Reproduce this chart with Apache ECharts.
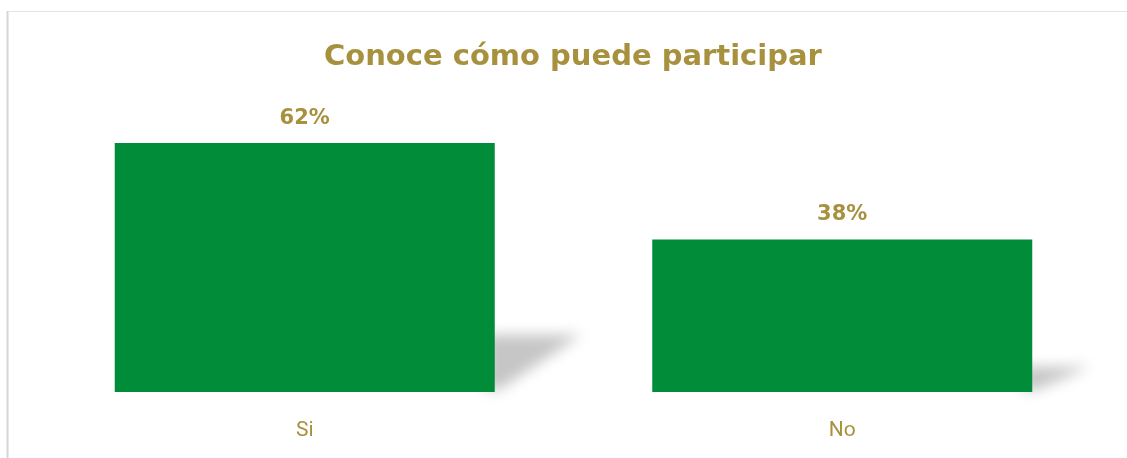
<!DOCTYPE html>
<html>
<head>
<meta charset="utf-8">
<script src="https://cdn.jsdelivr.net/npm/echarts@6/dist/echarts.min.js"></script>
<style>
html,body{margin:0;padding:0;background:#fff;}
#c{width:1127px;height:458px;}
</style>
</head>
<body>
<div id="c"></div>
<script>
const categories = ['Si', 'No'];
const values = [62, 38];
const titleText = 'Conoce cómo puede participar';

const GOLD = '#A8913E';
const GREEN = '#008C38';
const BAR_FRAC = 0.707;
const OFF = 3000;

const chart = echarts.init(document.getElementById('c'), null, {renderer: 'canvas'});
chart.setOption({
  animation: false,
  backgroundColor: '#fff',
  title: {
    text: titleText,
    left: 324,
    top: 43,
    padding: 0,
    textStyle: {color: GOLD, fontFamily: 'DejaVu Sans', fontWeight: 'bold', fontSize: 29}
  },
  graphic: [
    {type: 'line', shape: {x1: 7, y1: 11.5, x2: 1127, y2: 11.5}, style: {stroke: '#e4e4e4', lineWidth: 1}, silent: true},
    {type: 'line', shape: {x1: 7.5, y1: 11, x2: 7.5, y2: 458}, style: {stroke: '#d6d6d6', lineWidth: 2}, silent: true}
  ],
  grid: {left: 36, right: 16, top: 111, bottom: 66},
  xAxis: {
    type: 'category',
    data: categories,
    axisLine: {show: false},
    axisTick: {show: false},
    axisLabel: {color: GOLD, fontFamily: 'Roboto', fontSize: 21, margin: 28}
  },
  yAxis: {type: 'value', min: 0, max: 70, show: false, splitLine: {show: false}},
  series: [
    {
      type: 'custom',
      z: 1,
      silent: true,
      data: values.map((v, i) => [i, v]),
      encode: {x: 0, y: 1},
      renderItem: function (params, api) {
        const idx = api.value(0);
        const v = api.value(1);
        const top = api.coord([idx, v]);
        const bot = api.coord([idx, 0]);
        const bw = api.size([1, 0])[0] * BAR_FRAC;
        const right = bot[0] + bw / 2;
        const h = bot[1] - top[1];
        const sh = 0.33 * h - 23;
        const sw = 0.3 * h + 12;
        const b = bot[1];
        return {
          type: 'polygon',
          shape: {points: [
            [right - 10 + OFF, b - sh + 2],
            [right + sw + OFF, b - sh + 2],
            [right + 4 + OFF, b - 2],
            [right - 10 + OFF, b - 2]
          ]},
          style: {
            fill: '#000',
            shadowColor: 'rgba(198,198,198,1)',
            shadowBlur: 14,
            shadowOffsetX: -OFF,
            shadowOffsetY: 0
          }
        };
      }
    },
    {
      type: 'bar',
      z: 3,
      data: values,
      barWidth: (BAR_FRAC * 100) + '%',
      itemStyle: {color: GREEN},
      label: {
        show: true,
        position: 'top',
        distance: 14,
        formatter: '{c}%',
        color: GOLD,
        fontFamily: 'DejaVu Sans',
        fontWeight: 'bold',
        fontSize: 21
      }
    }
  ]
});
</script>
</body>
</html>
